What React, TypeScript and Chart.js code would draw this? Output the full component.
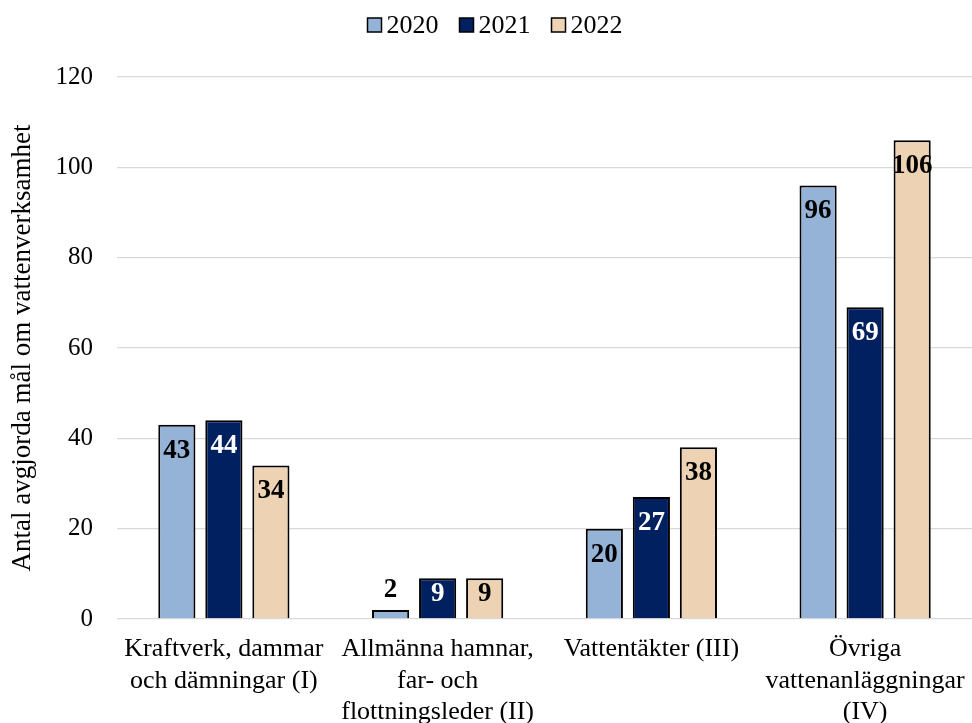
import React, { useEffect, useRef } from "react";
import { Chart, registerables } from "chart.js";

Chart.register(...registerables);

const categories: string[][] = [
  ["Kraftverk, dammar", "och dämningar (I)"],
  ["Allmänna hamnar,", "far- och", "flottningsleder (II)"],
  ["Vattentäkter (III)"],
  ["Övriga", "vattenanläggningar", "(IV)"],
];
const seriesNames = ["2020", "2021", "2022"];
const values2020 = [43, 2, 20, 96];
const values2021 = [44, 9, 27, 69];
const values2022 = [34, 9, 38, 106];
const seriesColors = ["#95B3D7", "#002060", "#EDD3B3"];
const labelColors = ["#000000", "#FFFFFF", "#000000"];
const yTitle = "Antal avgjorda mål om vattenverksamhet";
const FONT = "'Liberation Serif', 'Times New Roman', serif";

const legendPlugin = {
  id: "customLegend",
  afterDraw(chart: any) {
    const ctx = chart.ctx;
    const ds = chart.data.datasets;
    ctx.save();
    ctx.font = `26px ${FONT}`;
    const box = 14;
    const gapBoxText = 5;
    const gapItems = 21;
    const widths = ds.map((d: any) => box + gapBoxText + ctx.measureText(d.label).width);
    const total = widths.reduce((a: number, b: number) => a + b, 0) + gapItems * (ds.length - 1);
    let x = 495 - total / 2;
    const cy = 25;
    ds.forEach((d: any, i: number) => {
      ctx.fillStyle = d.backgroundColor;
      ctx.fillRect(x, cy - box / 2, box, box);
      ctx.strokeStyle = "#000";
      ctx.lineWidth = 1.5;
      ctx.strokeRect(x, cy - box / 2, box, box);
      ctx.fillStyle = "#000";
      ctx.textBaseline = "middle";
      ctx.textAlign = "left";
      ctx.fillText(d.label, x + box + gapBoxText, cy + 1);
      x += widths[i] + gapItems;
    });
    ctx.restore();
  },
};

const valueLabelPlugin = {
  id: "valueLabels",
  afterDatasetsDraw(chart: any) {
    const ctx = chart.ctx;
    ctx.save();
    ctx.font = `bold 27px ${FONT}`;
    ctx.textAlign = "center";
    ctx.textBaseline = "middle";
    chart.data.datasets.forEach((d: any, i: number) => {
      const meta = chart.getDatasetMeta(i);
      meta.data.forEach((bar: any, j: number) => {
        const v = d.data[j];
        const h = bar.base - bar.y;
        let y: number;
        let color = labelColors[i];
        if (h >= 55) y = bar.y + 26;
        else if (h >= 30) y = bar.y + 16;
        else {
          y = bar.y - 20;
          color = "#000000";
        }
        ctx.fillStyle = color;
        ctx.fillText(String(v), bar.x, y);
      });
    });
    ctx.restore();
  },
};

export default function App() {
  const ref = useRef<HTMLCanvasElement>(null);
  useEffect(() => {
    if (!ref.current) return;
    const data = [values2020, values2021, values2022];
    const chart = new Chart(ref.current, {
      type: "bar",
      data: {
        labels: categories,
        datasets: seriesNames.map((n, i) => ({
          label: n,
          data: data[i],
          backgroundColor: seriesColors[i],
          borderColor: "#000000",
          borderWidth: 2,
          categoryPercentage: 0.66,
          barPercentage: 0.79,
        })),
      },
      options: {
        responsive: false,
        animation: false,
        devicePixelRatio: 1,
        layout: { padding: { top: 77, right: 0, bottom: 0, left: 0 } },
        plugins: {
          legend: { display: false },
          tooltip: { enabled: false },
        },
        scales: {
          x: {
            grid: { display: false },
            border: { display: false },
            ticks: {
              color: "#000",
              font: { family: FONT, size: 26, lineHeight: 1.2 },
              padding: 7,
              maxRotation: 0,
              autoSkip: false,
            },
            afterFit(scale: any) {
              scale.height = 104;
            },
          },
          y: {
            min: 0,
            max: 120,
            grid: { color: "#D9D9D9", lineWidth: 1.3, drawTicks: false },
            border: { display: false },
            ticks: {
              stepSize: 20,
              color: "#000",
              font: { family: FONT, size: 25 },
              padding: 24,
            },
            title: {
              display: true,
              text: yTitle,
              color: "#000",
              font: { family: FONT, size: 27, weight: "normal" },
              padding: { top: 7, bottom: 4 },
            },
            afterFit(scale: any) {
              scale.width = 117;
            },
          },
        },
      },
      plugins: [legendPlugin, valueLabelPlugin],
    });
    return () => chart.destroy();
  }, []);
  return (
    <div style={{ position: "absolute", left: 0, top: 0, width: 972, height: 723, background: "#fff" }}>
      <canvas ref={ref} width={972} height={723} />
    </div>
  );
}
